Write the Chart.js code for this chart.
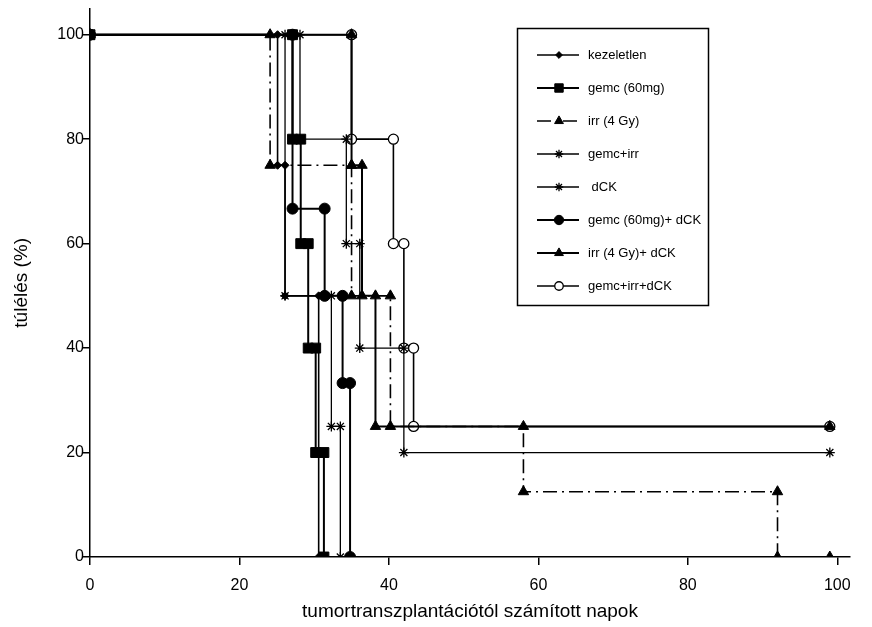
<!DOCTYPE html>
<html>
<head>
<meta charset="utf-8">
<script src="https://cdn.jsdelivr.net/npm/chart.js@4.4.0/dist/chart.umd.min.js"></script>
<style>
  html, body { margin: 0; padding: 0; background: #fff; }
</style>
</head>
<body>
<canvas id="survival" width="872" height="627"></canvas>
<script>
// Kaplan-Meier görbék: esemény napja és a túlélés (%) utána
const kezeletlenDays = [0, 25.1, 26.1, 30.6];
const kezeletlenSurv = [100, 75, 50, 0];
const gemcDays = [0, 27.1, 28.2, 29.2, 30.2, 31.3];
const gemcSurv = [100, 80, 60, 40, 20, 0];
const irrDays = [0, 24.1, 35, 40.2, 58, 92, 99];
const irrSurv = [100, 75, 50, 25, 12.5, 0, 0];
const gemcIrrDays = [0, 26.1, 32.3, 33.5];
const gemcIrrSurv = [100, 50, 25, 0];
const dckDays = [0, 28.1, 34.3, 36.1, 42, 99];
const dckSurv = [100, 80, 60, 40, 20, 20];
const gemcDckDays = [0, 27.1, 31.4, 33.8, 34.8];
const gemcDckSurv = [100, 66.7, 50, 33.3, 0];
const irrDckDays = [0, 35, 36.4, 38.2, 99];
const irrDckSurv = [100, 75, 50, 25, 25];
const gemcIrrDckDays = [0, 35, 40.6, 42, 43.3, 99];
const gemcIrrDckSurv = [100, 80, 60, 40, 25, 25];

const xTicks = [0, 20, 40, 60, 80, 100];
const yTicks = [0, 20, 40, 60, 80, 100];

const FONT = '"Liberation Sans", Arial, Helvetica, sans-serif';

// lépcsős görbe: minden eseménynél a régi és az új szint is kap pontot
function steps(days, surv) {
    const pts = [];
    days.forEach((d, i) => {
        if (i > 0 && surv[i] !== surv[i - 1]) pts.push({ x: d, y: surv[i - 1] });
        pts.push({ x: d, y: surv[i] });
    });
    return pts;
}

function series(label, days, surv, style, radius, extra) {
    return Object.assign({
        label: label,
        data: steps(days, surv),
        borderColor: '#000',
        borderWidth: 1.6,
        pointStyle: style,
        pointRadius: radius,
        pointHoverRadius: radius,
        pointBackgroundColor: '#000',
        pointBorderColor: '#000',
        pointBorderWidth: 1,
        fill: false,
        tension: 0
    }, extra || {});
}

const datasets = [
    series('kezeletlen', kezeletlenDays, kezeletlenSurv, 'rectRot', 4),
    series('gemc (60mg)', gemcDays, gemcSurv, 'rect', 7, { borderWidth: 2 }),
    series('irr (4 Gy)', irrDays, irrSurv, 'triangle', 6, { borderDash: [14, 5, 2, 5] }),
    series('gemc+irr', gemcIrrDays, gemcIrrSurv, 'star', 5, { borderWidth: 1.3, pointBorderWidth: 1.3 }),
    series(' dCK', dckDays, dckSurv, 'star', 5, { borderWidth: 1.3, pointBorderWidth: 1.3 }),
    series('gemc (60mg)+ dCK', gemcDckDays, gemcDckSurv, 'circle', 5.5, { borderWidth: 2 }),
    series('irr (4 Gy)+ dCK', irrDckDays, irrDckSurv, 'triangle', 6, { borderWidth: 2 }),
    series('gemc+irr+dCK', gemcIrrDckDays, gemcIrrDckSurv, 'circle', 5,
        { pointBackgroundColor: '#fff', pointBorderWidth: 1.3 })
];

// keretes jelmagyarázat: vonalminta + jelölő + felirat
const legendBox = {
    id: 'legendBox',
    afterDraw(chart) {
        const ctx = chart.ctx;
        ctx.save();
        ctx.strokeStyle = '#000';
        ctx.lineWidth = 1.5;
        ctx.strokeRect(517.5, 28.5, 191, 277);
        chart.data.datasets.forEach((ds, i) => {
            const y = 55 + i * 33;
            ctx.strokeStyle = '#000';
            ctx.lineWidth = ds.borderWidth;
            ctx.setLineDash(ds.borderDash || []);
            ctx.beginPath();
            ctx.moveTo(537, y);
            ctx.lineTo(579, y);
            ctx.stroke();
            ctx.setLineDash([]);
            ctx.fillStyle = ds.pointBackgroundColor;
            ctx.lineWidth = ds.pointBorderWidth;
            Chart.helpers.drawPoint(ctx, {
                pointStyle: ds.pointStyle,
                radius: ds.pointRadius * 0.85,
                rotation: 0,
                borderWidth: ds.pointBorderWidth
            }, 559, y);
            ctx.fillStyle = '#000';
            ctx.font = '13px ' + FONT;
            ctx.textAlign = 'left';
            ctx.textBaseline = 'middle';
            ctx.fillText(ds.label, 588, y);
        });
        ctx.restore();
    }
};

const axisBorder = { display: true, color: '#000', width: 1.5 };

new Chart(document.getElementById('survival').getContext('2d'), {
    type: 'line',
    data: { datasets: datasets },
    plugins: [legendBox],
    options: {
        responsive: false,
        animation: false,
        devicePixelRatio: 1,
        layout: { padding: { top: 7, right: 22, bottom: 4, left: 0 } },
        plugins: {
            legend: { display: false },
            tooltip: { enabled: false }
        },
        scales: {
            x: {
                type: 'linear',
                min: 0,
                max: 101.7,
                afterBuildTicks: s => { s.ticks = xTicks.map(v => ({ value: v })); },
                afterFit: s => { s.height = 66; },
                border: axisBorder,
                grid: { drawOnChartArea: false, drawTicks: true, tickLength: 8, color: '#000', lineWidth: 1.5 },
                ticks: { color: '#000', font: { family: FONT, size: 16 }, padding: 11, maxRotation: 0 },
                title: {
                    display: true,
                    text: 'tumortranszplantációtól számított napok',
                    color: '#000',
                    font: { family: FONT, size: 19 },
                    padding: 0
                }
            },
            y: {
                type: 'linear',
                min: 0,
                max: 105,
                afterBuildTicks: s => { s.ticks = yTicks.map(v => ({ value: v })); },
                afterFit: s => { s.width = 90; },
                border: axisBorder,
                grid: { drawOnChartArea: false, drawTicks: true, tickLength: 7, color: '#000', lineWidth: 1.5 },
                ticks: { color: '#000', font: { family: FONT, size: 16 }, padding: -1 },
                title: {
                    display: true,
                    text: 'túlélés (%)',
                    color: '#000',
                    font: { family: FONT, size: 19 },
                    padding: { top: 10, bottom: 0 }
                }
            }
        }
    }
});
</script>
</body>
</html>
